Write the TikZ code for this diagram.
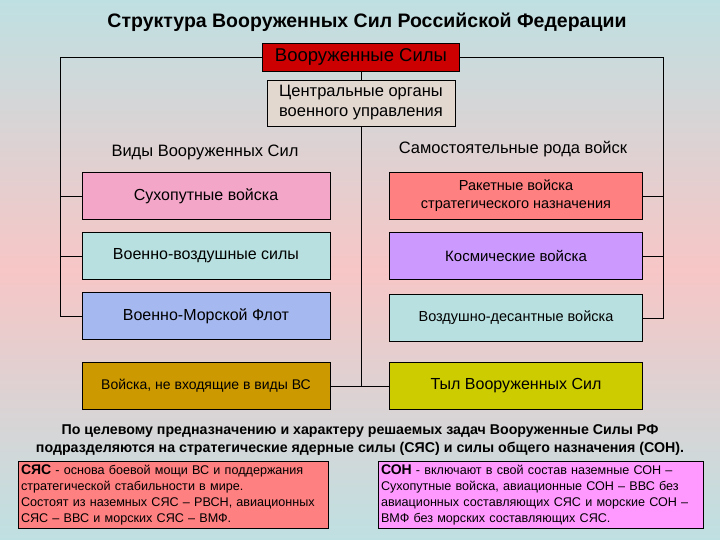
\documentclass[tikz,border=0pt]{standalone}
\usepackage{fontspec}
\setmainfont{Liberation Sans}
\begin{document}
\begin{tikzpicture}[x=1pt,y=-1pt,
  bx/.style={draw=black,line width=0.8pt,minimum width=#1,minimum height=47,inner sep=1pt,align=center,font=\fontsize{16}{18}\selectfont},
  bx/.default=248,
  ln/.style={draw=black,line width=0.7pt},
  hd/.style={font=\fontsize{16.5}{18}\selectfont}]
\definecolor{bgb}{HTML}{BFE0E2}
\definecolor{bgp}{HTML}{F7C6C6}
\useasboundingbox (0,0) rectangle (720,540);
\shade[top color=bgb,bottom color=bgp] (0,0) rectangle (720,270);
\shade[top color=bgp,bottom color=bgb] (0,270) rectangle (720,540);
\node[font=\bfseries\fontsize{19.5}{21}\selectfont] (title) at (367,22) {Структура Вооруженных Сил Российской Федерации};
\node[draw=black,line width=0.8pt,fill={rgb,255:red,204;green,0;blue,0},minimum width=197,minimum height=28,inner sep=1pt,font=\fontsize{18.5}{20}\selectfont] (vs) at (361,57) {Вооруженные Силы};
\node[draw=black,line width=0.8pt,fill={rgb,255:red,226;green,216;blue,208},minimum width=188,minimum height=46,align=center,inner sep=1pt,font=\fontsize{16.5}{20}\selectfont] (co) at (361,103) {Центральные органы\\военного управления};
\node[hd] (hl) at (205,152) {Виды Вооруженных Сил};
\node[hd] (hr) at (513,149) {Самостоятельные рода войск};
\node[bx,fill={rgb,255:red,244;green,166;blue,200}] (l1) at (206,196) {Сухопутные войска};
\node[bx,fill={rgb,255:red,184;green,224;blue,224}] (l2) at (206,256) {Военно-воздушные силы};
\node[bx,fill={rgb,255:red,166;green,184;blue,240}] (l3) at (206,316) {Военно-Морской Флот};
\node[bx,fill={rgb,255:red,204;green,153;blue,0},font=\fontsize{14}{16}\selectfont] (l4) at (206,386) {Войска, не входящие в виды ВС};
\node[bx=253,fill={rgb,255:red,255;green,128;blue,128},font=\fontsize{14.5}{18}\selectfont] (r1) at (516,196) {Ракетные войска\\стратегического назначения};
\node[bx=253,fill={rgb,255:red,204;green,153;blue,255},font=\fontsize{15}{17}\selectfont] (r2) at (516,256) {Космические войска};
\node[bx=253,fill={rgb,255:red,184;green,224;blue,224},font=\fontsize{14.5}{17}\selectfont] (r3) at (516,318) {Воздушно-десантные войска};
\node[bx=253,fill={rgb,255:red,204;green,204;blue,0}] (r4) at (516,386) {Тыл Вооруженных Сил};
\coordinate (ctr) at (361,386);
\draw[ln] (vs) -- (co);
\draw[ln] (co.south) -- (co.south |- ctr);
\draw[ln] (l4) -- (r4);
\draw[ln] (vs.west) -- (60,57) -- (60,316) -- (l3.west);
\draw[ln] (60,196) -- (l1.west);
\draw[ln] (60,256) -- (l2.west);
\draw[ln] (vs.east) -- (663,57) -- (663,318) -- (r3.east);
\draw[ln] (663,196) -- (r1.east);
\draw[ln] (663,256) -- (r2.east);
\node[align=center,font=\bfseries\fontsize{14.2}{18}\selectfont] (para) at (360,440) {По целевому предназначению и характеру решаемых задач Вооруженные Силы РФ\\подразделяются на стратегические ядерные силы (СЯС) и силы общего назначения (СОН).};
\node[draw=black,line width=0.8pt,fill={rgb,255:red,255;green,128;blue,128},minimum width=310,minimum height=67,text width=304,align=left,inner sep=3pt,font=\fontsize{12.6}{16}\selectfont] (sjs) at (173,494.5) {{\bfseries\fontsize{14}{16}\selectfont СЯС} - основа боевой мощи ВС и поддержания\\стратегической стабильности в мире.\\Состоят из наземных СЯС – РВСН, авиационных\\СЯС – ВВС и морских СЯС – ВМФ.};
\node[draw=black,line width=0.8pt,fill={rgb,255:red,255;green,153;blue,255},minimum width=325,minimum height=67,text width=319,align=left,inner sep=3pt,font=\fontsize{12.6}{16}\selectfont] (son) at (540.5,494.5) {{\bfseries\fontsize{14}{16}\selectfont СОН} - включают в свой состав наземные СОН –\\Сухопутные войска, авиационные СОН – ВВС без\\авиационных составляющих СЯС и морские СОН –\\ВМФ без морских составляющих СЯС.};
\end{tikzpicture}
\end{document}
